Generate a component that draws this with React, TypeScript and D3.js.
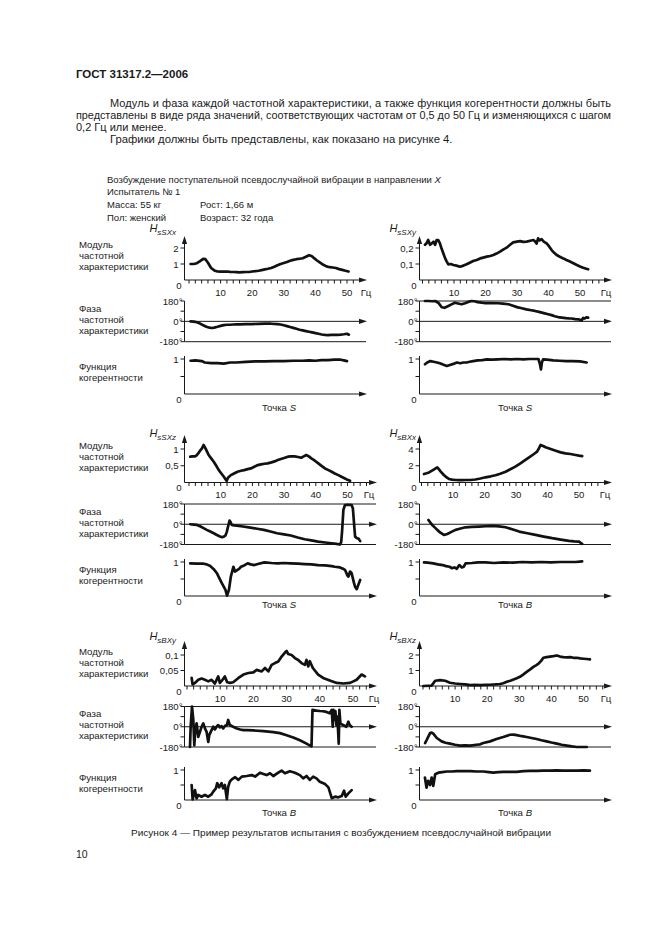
import React from 'react';
import * as d3 from 'd3';

type Pt = [number, number];

// ---------- DATA ----------
const freqLabels = [10, 20, 30, 40, 50];

// Row 1, left: H sSXx
const sSXxTicks = [0, 1, 2];
const sSXxTickLabels = ['0', '1', '2'];
const sSXxMod: Pt[] = [[0.5,1.0],[1.5,1.0],[2.5,1.05],[3.5,1.18],[4.5,1.32],[5.2,1.3],[6,1.08],[7,0.75],[8,0.6],[9,0.53],[10,0.52],[11,0.52],[12,0.53],[13,0.51],[14,0.5],[15,0.49],[16,0.48],[17,0.49],[18,0.5],[19,0.5],[20,0.53],[21,0.55],[22,0.58],[23,0.62],[24,0.66],[25,0.7],[26,0.75],[27,0.83],[28,0.92],[29,1.0],[30,1.06],[31,1.12],[32,1.2],[33,1.26],[34,1.3],[35,1.33],[36,1.36],[37,1.45],[38,1.55],[38.8,1.5],[39.5,1.38],[40.5,1.22],[41.5,1.08],[42.5,0.95],[43.5,0.85],[44.5,0.8],[45.5,0.78],[46.5,0.75],[47.5,0.68],[48.5,0.63],[49.5,0.58],[50.5,0.53]];
const sSXxPh: Pt[] = [[0.5,0],[1.5,-2],[2.5,-8],[3.5,-20],[4.5,-35],[5.5,-48],[6.5,-56],[7.2,-59],[8,-55],[9,-48],[10,-40],[11,-33],[12,-30],[13,-30],[14,-28],[15,-27],[16,-26],[18,-25],[20,-24],[22,-22],[24,-21],[26,-21],[28,-24],[29,-28],[30,-35],[31,-42],[32,-50],[33,-58],[34,-66],[35,-74],[36,-80],[37,-86],[38,-92],[39,-98],[40,-104],[41,-110],[42,-116],[43,-120],[44,-121],[45,-120],[46,-119],[47,-119],[48,-117],[49,-114],[50,-110],[50.6,-118]];
const sSXxCoh: Pt[] = [[0.5,0.95],[2,0.96],[4,0.94],[5,0.9],[7,0.88],[9,0.88],[11,0.87],[13,0.9],[15,0.9],[18,0.92],[21,0.93],[24,0.93],[27,0.94],[30,0.94],[33,0.95],[36,0.95],[38,0.96],[40,0.95],[42,0.97],[44,0.97],[46,0.98],[48,0.98],[49,0.96],[50,0.94]];

// Row 1, right: H sSXy
const sSXyTicks = [0, 0.1, 0.2];
const sSXyTickLabels = ['0', '0,1', '0,2'];
const sSXyMod: Pt[] = [[0.8,0.22],[1.3,0.23],[1.8,0.25],[2.4,0.22],[3,0.23],[3.5,0.24],[4,0.22],[4.5,0.25],[5,0.25],[5.5,0.23],[6,0.2],[6.6,0.167],[7.2,0.135],[7.7,0.115],[8.2,0.098],[9,0.1],[9.8,0.094],[10.8,0.09],[11.9,0.083],[13,0.09],[14,0.098],[15,0.108],[16.1,0.119],[17.2,0.125],[18.3,0.135],[19.3,0.14],[20.4,0.146],[21.5,0.15],[22.5,0.156],[23.5,0.165],[24.6,0.177],[25.6,0.19],[26.7,0.202],[27.8,0.22],[28.8,0.235],[30,0.24],[31,0.243],[32,0.238],[33.1,0.24],[34.2,0.245],[35.2,0.25],[35.8,0.24],[36.2,0.228],[36.7,0.26],[37.2,0.248],[37.8,0.255],[38.5,0.24],[39.4,0.229],[40.2,0.21],[41,0.187],[41.8,0.17],[42.6,0.156],[43.6,0.145],[44.7,0.135],[45.7,0.125],[46.8,0.115],[47.9,0.105],[49,0.094],[50,0.085],[51,0.077],[52,0.07],[52.6,0.067]];
const sSXyPh: Pt[] = [[0.8,180],[2,180],[3,178],[4,180],[5,165],[6.1,125],[7,120],[8.2,136],[9.2,150],[10.3,165],[11.3,158],[12.4,151],[13.5,160],[14.5,172],[15.6,180],[16.5,178],[17.5,170],[18.8,165],[20,162],[22,162],[24.1,160],[25.5,156],[27.3,151],[28.5,140],[30,126],[31.5,116],[33,106],[34.5,98],[35.7,92],[37,84],[38.5,73],[39.9,63],[41,55],[42,45],[43,38],[44.2,33],[45.5,28],[46.5,26],[47.3,25],[48.5,20],[49.5,18],[50,14],[50.5,8],[51,30],[51.5,25],[52,35],[52.6,33]];
const sSXyCoh: Pt[] = [[0.8,0.85],[1.5,0.9],[2.5,0.94],[3.5,0.92],[4.6,0.9],[5.5,0.88],[6.5,0.84],[7.7,0.8],[8.7,0.83],[9.8,0.86],[10.9,0.9],[12,0.88],[13,0.9],[14,0.9],[15,0.92],[16.1,0.94],[17.5,0.96],[19,0.97],[20.4,0.99],[22,0.98],[24,0.99],[26,1.0],[28,0.99],[30,1.0],[32,0.99],[34,1.0],[35.5,1.0],[36.8,1.0],[37.3,0.85],[37.6,0.7],[37.9,0.9],[38.3,0.99],[39.5,0.98],[41.5,0.96],[43.5,0.95],[45.7,0.94],[47.5,0.94],[50,0.93],[52.1,0.9]];

// Row 2, left: H sSXz
const sSXzTicks = [0, 0.5, 1];
const sSXzTickLabels = ['0', '0,5', '1'];
const sSXzMod: Pt[] = [[0.4,0.77],[1.2,0.78],[1.9,0.78],[2.5,0.82],[2.9,0.87],[3.5,0.95],[4.1,1.02],[4.6,1.12],[5.2,1.02],[5.7,0.92],[6.2,0.82],[7,0.72],[7.8,0.62],[8.6,0.5],[9.4,0.37],[10.2,0.27],[11,0.17],[11.5,0.1],[11.9,0.05],[12.3,0.14],[13.2,0.22],[14.2,0.27],[15.3,0.32],[16.4,0.35],[17.4,0.37],[18.5,0.4],[19.5,0.42],[20.6,0.47],[21.7,0.52],[22.7,0.54],[23.8,0.56],[24.8,0.57],[26,0.6],[27,0.63],[28,0.67],[29,0.7],[30,0.73],[31.2,0.77],[32.3,0.78],[33.3,0.78],[34.4,0.76],[35.4,0.74],[36.2,0.78],[37,0.82],[37.8,0.78],[38.6,0.72],[39.7,0.65],[40.8,0.57],[41.9,0.49],[42.9,0.42],[44,0.37],[45,0.32],[46,0.27],[47.1,0.22],[48.1,0.17],[49.2,0.12],[50,0.08],[50.8,0.05]];
const sSXzPh: Pt[] = [[0.4,0],[1.5,-3],[2.5,-6],[3.5,-18],[4.6,-35],[5.6,-50],[6.7,-65],[7.8,-80],[8.8,-95],[9.6,-106],[10.4,-115],[11,-110],[11.5,-100],[11.9,-70],[12.2,-35],[12.5,0],[12.8,32],[13.1,20],[13.5,-6],[14.3,-10],[15.1,-12],[17,-20],[19.4,-30],[21.5,-40],[23.6,-50],[25.7,-65],[27.8,-80],[30,-90],[32.1,-100],[34.3,-118],[36.5,-133],[38.6,-144],[40.7,-154],[42.9,-162],[45,-169],[46.5,-175],[47.6,-180],[48,-160],[48.3,-60],[48.7,127],[49.2,171],[50.2,172],[51.3,171],[51.7,140],[51.9,67],[52.2,-40],[52.4,-110],[53,-124],[53.5,-128],[54,-150]];
const sSXzCoh: Pt[] = [[0.4,0.96],[2.5,0.95],[4.6,0.95],[5.6,0.93],[6.7,0.88],[7.8,0.79],[8.8,0.67],[9.6,0.52],[10.4,0.37],[11,0.27],[11.5,0.18],[12,0.01],[12.6,0.18],[13.2,0.57],[14,0.86],[14.5,0.72],[15.3,0.77],[15.8,0.8],[16.4,0.86],[17.4,0.9],[18.5,0.96],[19.5,0.93],[20.6,0.91],[22,0.95],[23.8,0.99],[26,0.97],[28,0.96],[30,0.97],[32,0.96],[34.4,0.95],[36.5,0.94],[38.6,0.93],[40.7,0.91],[42.9,0.9],[45,0.88],[46,0.86],[47.6,0.84],[48.6,0.8],[49.2,0.77],[50,0.6],[50.3,0.57],[50.8,0.72],[51.3,0.67],[52,0.4],[52.4,0.27],[52.9,0.2],[53.5,0.35],[54,0.47]];

// Row 2, right: H sBXx
const sBXxTicks = [0, 2, 4];
const sBXxTickLabels = ['0', '2', '4'];
const sBXxMod: Pt[] = [[0.8,1.01],[1.6,1.1],[2.4,1.2],[3.2,1.38],[4,1.57],[5,1.81],[5.5,1.6],[6.1,1.3],[7.1,0.9],[8,0.6],[8.7,0.42],[9.7,0.35],[10.8,0.3],[12,0.28],[13,0.28],[14,0.3],[15.5,0.3],[17.1,0.36],[18.7,0.48],[20.3,0.62],[22,0.74],[23.5,0.86],[25,1.05],[26.7,1.29],[28.2,1.58],[29.8,1.89],[31.4,2.28],[33,2.69],[34.4,3.05],[35.7,3.4],[36.7,3.68],[37.3,4.1],[37.8,4.48],[38.6,4.35],[39.4,4.2],[41,4.0],[42.6,3.8],[44.2,3.6],[45.7,3.48],[47.3,3.4],[48.9,3.28],[50,3.2],[51,3.16]];
const sBXxPh: Pt[] = [[2.2,38],[2.8,15],[3.4,-6],[4.2,-28],[5,-50],[6,-75],[7.1,-95],[8.2,-86],[9.5,-68],[10.8,-50],[12.4,-38],[14,-27],[16,-24],[18.3,-21],[20.4,-18],[22.5,-15],[24.6,-19],[26.7,-27],[28.8,-45],[31,-65],[33.6,-80],[36.2,-95],[38.8,-110],[41.5,-124],[44.2,-136],[46.8,-148],[48.5,-152],[50,-154],[50.5,-165],[51,-174]];
const sBXxCoh: Pt[] = [[0.8,0.99],[2,0.98],[3.7,0.96],[5.2,0.93],[6.7,0.91],[7.8,0.88],[8.9,0.86],[9.6,0.82],[10.5,0.84],[11.2,0.8],[12,0.91],[12.8,0.84],[13.4,0.86],[14,0.96],[16,0.97],[18,0.99],[20.3,0.99],[23,0.97],[26,0.99],[29,0.98],[32,1.0],[35,0.99],[38,1.0],[41,0.99],[44,1.0],[47,1.0],[49,1.0],[51,1.02]];

// Row 3, left: H sBXy
const sBXyTicks = [0, 0.05, 0.1];
const sBXyTickLabels = ['0', '0,05', '0,1'];
const sBXyMod: Pt[] = [[1.4,0.026],[1.7,0.005],[2.4,0.01],[3.4,0.02],[4.4,0.024],[5.4,0.02],[6.4,0.015],[7.4,0.02],[8.4,0.008],[9.4,0.031],[9.9,0.01],[10.7,0.02],[11.4,0.031],[12.1,0.012],[13,0.01],[13.9,0.012],[15.5,0.026],[17,0.037],[18.5,0.042],[20,0.044],[21,0.052],[22.5,0.047],[23.5,0.058],[24.5,0.047],[25.5,0.068],[26.5,0.074],[27.5,0.079],[28.5,0.095],[29.5,0.108],[30,0.113],[30.5,0.103],[31.5,0.1],[32.5,0.09],[33.5,0.084],[34.5,0.074],[35.5,0.068],[36,0.084],[36.5,0.063],[37,0.08],[37.9,0.058],[39.5,0.037],[41,0.026],[43,0.018],[45.1,0.01],[47.1,0.008],[49.1,0.01],[50.1,0.015],[51.1,0.02],[52.6,0.037],[53.6,0.031]];
const sBXyPh: Pt[] = [[0.9,-180],[1.1,0],[1.5,180],[1.9,60],[2.2,-165],[2.5,-30],[2.9,30],[3.4,-90],[3.9,-45],[4.4,0],[4.9,30],[5.4,-15],[5.9,-45],[6.4,-135],[6.7,-75],[7.4,-30],[7.9,0],[8.4,-24],[8.9,0],[9.4,15],[9.9,-6],[10.4,6],[10.9,-15],[11.4,6],[12,15],[12.4,60],[12.9,15],[13.9,0],[15,-15],[16,-24],[17,-30],[18,-30],[20,-33],[23,-39],[26,-48],[28,-57],[30,-75],[32,-96],[34,-120],[36,-150],[37.5,-174],[37.8,150],[39,144],[40,140],[41,138],[42,132],[43,120],[43.6,150],[43.9,0],[44.1,150],[44.4,60],[44.7,140],[45,15],[45.3,90],[45.7,-150],[45.9,150],[46.2,30],[47,15],[48,0],[48.6,45],[49,15],[49.6,0]];
const sBXyCoh: Pt[] = [[1.4,0.5],[1.7,0.02],[2.4,0.33],[2.9,0.05],[3.4,0.17],[4.4,0.11],[5.4,0.17],[6.4,0.11],[7.4,0.19],[7.9,0.28],[8.7,0.39],[9.1,0.56],[9.7,0.42],[10.4,0.56],[10.9,0.39],[11.4,0.5],[12,0.03],[12.4,0.44],[12.9,0.61],[13.5,0.69],[14.5,0.76],[15.5,0.67],[16.5,0.78],[18,0.8],[19.5,0.83],[20.5,0.78],[22,0.91],[23,0.87],[24,0.83],[25,0.89],[26,0.8],[27.5,0.91],[28.5,0.98],[29.5,0.89],[31,0.96],[32.5,0.91],[34,0.83],[35,0.72],[36,0.8],[37,0.67],[38,0.78],[39,0.72],[40,0.61],[41.6,0.53],[42.6,0.42],[43.6,0.06],[44.6,0.11],[45.6,0.09],[46.6,0.13],[47.3,0.31],[47.8,0.11],[48.6,0.22],[49.6,0.33]];

// Row 3, right: H sBXz
const sBXzTicks = [0, 1, 2];
const sBXzTickLabels = ['0', '1', '2'];
const sBXzMod: Pt[] = [[0.1,0.0],[2.7,0.03],[3.2,0.17],[3.8,0.34],[5.3,0.38],[6.9,0.34],[8.4,0.21],[10,0.16],[11.6,0.13],[13.2,0.1],[14.7,0.06],[16.2,0.07],[17.8,0.06],[19.4,0.07],[20.9,0.08],[22.5,0.1],[24,0.13],[25,0.18],[26.1,0.27],[27.2,0.34],[28.2,0.42],[29.2,0.5],[30.2,0.59],[31.3,0.75],[32.3,0.91],[33.4,1.07],[34.4,1.23],[35.2,1.33],[36,1.44],[36.8,1.62],[37.5,1.82],[38.5,1.86],[39.6,1.9],[40.6,1.93],[41.7,1.97],[42.7,1.9],[43.7,1.86],[44.8,1.85],[45.8,1.86],[46.9,1.82],[47.9,1.82],[49,1.78],[50,1.76],[51,1.74],[52,1.72]];
const sBXzPh: Pt[] = [[0.65,-145],[1.2,-115],[1.7,-86],[2.2,-56],[2.7,-52],[3.2,-62],[4.3,-100],[5.8,-130],[7,-142],[8.4,-150],[10,-160],[11.5,-168],[13,-166],[14.7,-168],[15.8,-164],[16.7,-160],[17.8,-156],[18.8,-145],[20.9,-130],[22.9,-109],[25,-91],[27.1,-71],[28.2,-70],[29.2,-75],[30.8,-84],[32.3,-91],[33.8,-100],[35.4,-109],[36.9,-120],[38.5,-130],[40,-140],[41.7,-150],[43.2,-160],[44.8,-168],[46.4,-175],[47.9,-180],[50,-180],[51,-180]];
const sBXzCoh: Pt[] = [[0.6,0.75],[1.1,0.41],[1.6,0.64],[2.2,0.5],[2.7,0.75],[3.2,0.47],[3.8,0.86],[4.8,0.91],[6,0.93],[7.4,0.95],[9,0.95],[10.5,0.96],[12.5,0.96],[14.7,0.96],[16.7,0.95],[18.8,0.95],[20.5,0.93],[21.9,0.91],[23.5,0.93],[25,0.94],[27,0.94],[29.2,0.94],[31.3,0.96],[33.3,0.97],[35.4,0.97],[37.4,0.98],[39.5,0.98],[41.6,0.99],[43.7,0.98],[45.8,0.98],[47.9,0.98],[50,0.99],[52,0.98]];

const phaseTicks = [180, 90, 0, -90, -180];
const phaseLabels: [number, string][] = [[180, '180°'], [0, '0°'], [-180, '-180°']];
const cohTicks = [0, 0.5, 1];

// ---------- LAYOUT ----------
const FONT = '"Liberation Sans", Arial, Helvetica, sans-serif';
const INK = '#1a1a1a';

const rows = [
  { modZero: 280, modTop: 248, modArrow: 236, hY: 232, phTop: 301, phBot: 341.7, cohOne: 359, cohZero: 394, pointY: 407 },
  { modZero: 482.5, modTop: 449, modArrow: 435, hY: 437, phTop: 504, phBot: 544.5, cohOne: 562, cohZero: 596, pointY: 604 },
  { modZero: 686, modTop: 655, modArrow: 641, hY: 640, phTop: 706.5, phBot: 747, cohOne: 770, cohZero: 800, pointY: 812 },
];

type PanelDef = {
  row: number; axisX: number; x0: number; x50: number; arrowEnd: number; hzX: number;
  hRight: number; hSub: string; ticks: number[]; tickLabels: string[];
  mod: Pt[]; ph: Pt[]; coh: Pt[]; point: string; pointX: number; phTopLine: boolean; labels: boolean;
};

const panels: PanelDef[] = [
  { row: 0, axisX: 184.5, x0: 189, x50: 347, arrowEnd: 367, hzX: 366, hRight: 176, hSub: 'sSXx', ticks: sSXxTicks, tickLabels: sSXxTickLabels, mod: sSXxMod, ph: sSXxPh, coh: sSXxCoh, point: 'S', pointX: 279, phTopLine: false, labels: true },
  { row: 0, axisX: 419.5, x0: 422.5, x50: 580, arrowEnd: 612, hzX: 606, hRight: 416, hSub: 'sSXy', ticks: sSXyTicks, tickLabels: sSXyTickLabels, mod: sSXyMod, ph: sSXyPh, coh: sSXyCoh, point: 'S', pointX: 515, phTopLine: true, labels: false },
  { row: 1, axisX: 184.5, x0: 189, x50: 347.5, arrowEnd: 377, hzX: 369, hRight: 176, hSub: 'sSXz', ticks: sSXzTicks, tickLabels: sSXzTickLabels, mod: sSXzMod, ph: sSXzPh, coh: sSXzCoh, point: 'S', pointX: 279, phTopLine: true, labels: true },
  { row: 1, axisX: 419.5, x0: 421.5, x50: 579, arrowEnd: 612, hzX: 605, hRight: 416, hSub: 'sBXx', ticks: sBXxTicks, tickLabels: sBXxTickLabels, mod: sBXxMod, ph: sBXxPh, coh: sBXxCoh, point: 'B', pointX: 515, phTopLine: false, labels: false },
  { row: 2, axisX: 184.5, x0: 187, x50: 353, arrowEnd: 377, hzX: 374, hRight: 176, hSub: 'sBXy', ticks: sBXyTicks, tickLabels: sBXyTickLabels, mod: sBXyMod, ph: sBXyPh, coh: sBXyCoh, point: 'B', pointX: 279, phTopLine: true, labels: true },
  { row: 2, axisX: 419.5, x0: 423, x50: 583.5, arrowEnd: 612, hzX: 606, hRight: 416, hSub: 'sBXz', ticks: sBXzTicks, tickLabels: sBXzTickLabels, mod: sBXzMod, ph: sBXzPh, coh: sBXzCoh, point: 'B', pointX: 515, phTopLine: false, labels: false },
];

const CURVE_W = 2.7;

function ArrowRight({ x, y }: { x: number; y: number }) {
  return <path d={`M${x},${y} L${x - 8},${y - 2.6} L${x - 8},${y + 2.6} Z`} fill={INK} />;
}
function ArrowUp({ x, y }: { x: number; y: number }) {
  return <path d={`M${x},${y} L${x - 2.6},${y + 8} L${x + 2.6},${y + 8} Z`} fill={INK} />;
}

function Curve({ data, xs, ys }: { data: Pt[]; xs: d3.ScaleLinear<number, number>; ys: d3.ScaleLinear<number, number> }) {
  const gen = d3.line<Pt>().x(d => xs(d[0])).y(d => ys(d[1]));
  return <path d={gen(data) || ''} fill="none" stroke="#111" strokeWidth={CURVE_W} strokeLinejoin="round" strokeLinecap="round" />;
}

function Panel({ p }: { p: PanelDef }) {
  const r = rows[p.row];
  const xs = d3.scaleLinear().domain([0, 50]).range([p.x0, p.x50]);
  const top = p.ticks[p.ticks.length - 1];
  const ysM = d3.scaleLinear().domain([0, top]).range([r.modZero, r.modTop]);
  const ysP = d3.scaleLinear().domain([-180, 180]).range([r.phBot, r.phTop]);
  const ysC = d3.scaleLinear().domain([0, 1]).range([r.cohZero, r.cohOne]);
  const minor = d3.range(0, 58, 2).filter(f => xs(f) < p.arrowEnd - 9);
  const fs = 9.6;
  const lbl = { fontFamily: FONT, fontSize: fs, fill: INK };
  const leftX = 79;
  return (
    <g>
      {p.labels && (
        <g {...lbl}>
          <text x={leftX} y={r.modTop - 4} dominantBaseline="central">Модуль</text>
          <text x={leftX} y={r.modTop + 7} dominantBaseline="central">частотной</text>
          <text x={leftX} y={r.modTop + 18} dominantBaseline="central">характеристики</text>
          <text x={leftX} y={r.phTop + 7} dominantBaseline="central">Фаза</text>
          <text x={leftX} y={r.phTop + 18} dominantBaseline="central">частотной</text>
          <text x={leftX} y={r.phTop + 29} dominantBaseline="central">характеристики</text>
          <text x={leftX} y={r.cohOne + 7} dominantBaseline="central">Функция</text>
          <text x={leftX} y={r.cohOne + 18} dominantBaseline="central">когерентности</text>
        </g>
      )}

      {/* ===== Modulus ===== */}
      <text x={p.hRight} y={r.hY} textAnchor="end" fontFamily={FONT} fill={INK} fontStyle="italic">
        <tspan fontSize={11}>H</tspan><tspan fontSize={8} dy={3}>{p.hSub}</tspan>
      </text>
      <line x1={p.axisX} x2={p.axisX} y1={r.modZero} y2={r.modArrow + 6} stroke={INK} strokeWidth={1} />
      <ArrowUp x={p.axisX} y={r.modArrow} />
      <line x1={p.axisX} x2={p.arrowEnd - 6} y1={r.modZero} y2={r.modZero} stroke={INK} strokeWidth={1} />
      <ArrowRight x={p.arrowEnd} y={r.modZero} />
      {minor.map(f => (
        <line key={f} x1={xs(f)} x2={xs(f)} y1={r.modZero} y2={r.modZero + 3.5} stroke={INK} strokeWidth={1} />
      ))}
      {freqLabels.map(f => (
        <text key={f} x={xs(f)} y={r.modZero + 12} textAnchor="middle" dominantBaseline="central" {...lbl}>{f}</text>
      ))}
      <text x={p.hzX} y={r.modZero + 12} textAnchor="middle" dominantBaseline="central" {...lbl}>Гц</text>
      {p.ticks.slice(1).map(v => (
        <line key={v} x1={p.axisX - 4} x2={p.axisX} y1={ysM(v)} y2={ysM(v)} stroke={INK} strokeWidth={1} />
      ))}
      {p.ticks.map((v, i) => (
        <text key={v} x={i === 0 ? p.axisX - 3 : p.axisX - 6} y={i === 0 ? ysM(v) + 5 : ysM(v)} textAnchor="end" dominantBaseline="central" {...lbl}>{p.tickLabels[i]}</text>
      ))}
      <Curve data={p.mod} xs={xs} ys={ysM} />

      {/* ===== Phase ===== */}
      <line x1={p.axisX} x2={p.axisX} y1={r.phTop} y2={r.phBot} stroke={INK} strokeWidth={1} />
      {phaseTicks.map(v => (
        <line key={v} x1={p.axisX - 4} x2={p.axisX} y1={ysP(v)} y2={ysP(v)} stroke={INK} strokeWidth={1} />
      ))}
      {p.phTopLine && <line x1={p.axisX} x2={p.arrowEnd - 1} y1={ysP(180)} y2={ysP(180)} stroke={INK} strokeWidth={1} />}
      <line x1={p.axisX} x2={p.arrowEnd - 1} y1={ysP(-180)} y2={ysP(-180)} stroke={INK} strokeWidth={1} />
      <line x1={p.axisX} x2={p.arrowEnd - 6} y1={ysP(0)} y2={ysP(0)} stroke={INK} strokeWidth={1} />
      <ArrowRight x={p.arrowEnd} y={ysP(0)} />
      {phaseLabels.map(([v, t]) => (
        <text key={v} x={p.axisX - 2} y={ysP(v)} textAnchor="end" dominantBaseline="central" {...lbl}>{t}</text>
      ))}
      <Curve data={p.ph} xs={xs} ys={ysP} />

      {/* ===== Coherence ===== */}
      <line x1={p.axisX} x2={p.axisX} y1={r.cohZero} y2={r.cohOne - 3} stroke={INK} strokeWidth={1} />
      {cohTicks.slice(1).map(v => (
        <line key={v} x1={p.axisX - 4} x2={p.axisX} y1={ysC(v)} y2={ysC(v)} stroke={INK} strokeWidth={1} />
      ))}
      <line x1={p.axisX} x2={p.arrowEnd - 6} y1={r.cohZero} y2={r.cohZero} stroke={INK} strokeWidth={1} />
      <ArrowRight x={p.arrowEnd} y={r.cohZero} />
      <text x={p.axisX - 6} y={ysC(1)} textAnchor="end" dominantBaseline="central" {...lbl}>1</text>
      <text x={p.axisX - 3} y={ysC(0) + 5} textAnchor="end" dominantBaseline="central" {...lbl}>0</text>
      <Curve data={p.coh} xs={xs} ys={ysC} />
      <text x={p.pointX} y={r.pointY} textAnchor="middle" dominantBaseline="central" {...lbl}>
        Точка <tspan fontStyle="italic">{p.point}</tspan>
      </text>
    </g>
  );
}

export default function App() {
  const body = { fontFamily: FONT, fontSize: 11, fill: INK };
  const info = { fontFamily: FONT, fontSize: 9.5, fill: INK };
  return (
    <svg width={661} height={936} viewBox="0 0 661 936" style={{ position: 'absolute', left: 0, top: 0, background: '#fff' }}>
      <rect x={0} y={0} width={661} height={936} fill="#fff" />
      <text x={76} y={74} dominantBaseline="central" fontFamily={FONT} fontSize={11.5} fontWeight="bold" fill={INK}>ГОСТ 31317.2—2006</text>

      <g {...body}>
        <text x={110} y={102.5} dominantBaseline="central" textLength={501} lengthAdjust="spacing">Модуль и фаза каждой частотной характеристики, а также функция когерентности должны быть</text>
        <text x={76} y={115} dominantBaseline="central" textLength={535} lengthAdjust="spacingAndGlyphs">представлены в виде ряда значений, соответствующих частотам от 0,5 до 50 Гц и изменяющихся с шагом</text>
        <text x={76} y={127} dominantBaseline="central">0,2 Гц или менее.</text>
        <text x={110} y={139} dominantBaseline="central" fontSize={11.3}>Графики должны быть представлены, как показано на рисунке 4.</text>
      </g>

      <g {...info}>
        <text x={107} y={179} dominantBaseline="central">Возбуждение поступательной псевдослучайной вибрации в направлении <tspan fontStyle="italic">X</tspan></text>
        <text x={107} y={191.5} dominantBaseline="central">Испытатель № 1</text>
        <text x={107} y={204.5} dominantBaseline="central">Масса: 55 кг</text>
        <text x={200} y={204.5} dominantBaseline="central">Рост: 1,66 м</text>
        <text x={107} y={217.5} dominantBaseline="central">Пол: женский</text>
        <text x={200} y={217.5} dominantBaseline="central">Возраст: 32 года</text>
      </g>

      {panels.map((p, i) => <Panel key={i} p={p} />)}

      <text x={131} y={832} dominantBaseline="central" fontFamily={FONT} fontSize={9.8} fill={INK} textLength={420} lengthAdjust="spacingAndGlyphs">Рисунок 4 — Пример результатов испытания с возбуждением псевдослучайной вибрации</text>
      <text x={76} y={853.5} dominantBaseline="central" fontFamily={FONT} fontSize={10.5} fill={INK}>10</text>
    </svg>
  );
}
